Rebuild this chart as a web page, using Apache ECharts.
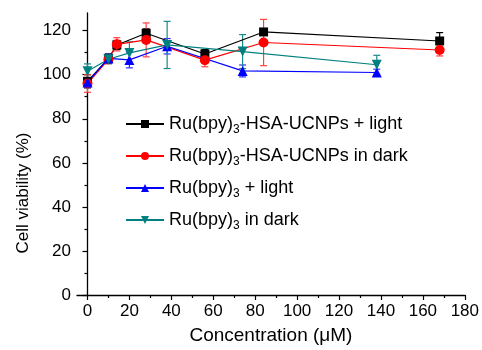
<!DOCTYPE html>
<html>
<head>
<meta charset="utf-8">
<script src="https://cdn.jsdelivr.net/npm/echarts@6/dist/echarts.min.js"></script>
<style>
  html, body { margin: 0; padding: 0; background: #fff; }
  #main { width: 482px; height: 350px; }
</style>
</head>
<body>
<div id="main"></div>
<script type="text/javascript">
    // concentrations (uM)
    var concHSA = [0, 10, 14, 28, 56, 84, 168];
    var concRu = [0, 10, 20, 38, 74, 138];

    // cell viability (%) and error
    var hsaLight = [97, 107.4, 113.5, 118.8, 109.4, 119.4, 115.3];
    var hsaLightErr = [3, 2, 2, 2, 2, 1.5, 3.8];
    var hsaDark = [96, 107, 113.8, 115.8, 106.6, 114.6, 111.2];
    var hsaDarkErr = [4, 2, 3, 7.7, 3, 10.5, 2.7];
    var ruLight = [96.5, 107.4, 106.7, 112.9, 101.7, 101.0];
    var ruLightErr = [2, 2, 3.6, 3.5, 2.7, 1.5];
    var ruDark = [101.6, 107, 109.9, 113.5, 110.5, 104.5];
    var ruDarkErr = [3.3, 2, 5, 10.7, 7.7, 4.3];

    var xTicks = [0, 20, 40, 60, 80, 100, 120, 140, 160, 180];
    var xMinor = [10, 30, 50, 70, 90, 110, 130, 150, 170];
    var yTicks = [0, 20, 40, 60, 80, 100, 120];
    var yMinor = [10, 30, 50, 70, 90, 110];

    var names = ['Ru(bpy)3-HSA-UCNPs + light', 'Ru(bpy)3-HSA-UCNPs in dark', 'Ru(bpy)3 + light', 'Ru(bpy)3 in dark'];
    var font = 'Liberation Sans, Arial, sans-serif';

    function pts(xs, ys) {
        return xs.map(function (x, i) { return [x, ys[i]]; });
    }
    function errPts(xs, ys, es) {
        return xs.map(function (x, i) { return [x, ys[i], es[i]]; });
    }

    function errSeries(name, data, color) {
        return {
            name: name + ' err',
            type: 'custom',
            data: data,
            z: 1,
            renderItem: function (params, api) {
                var x = api.value(0), y = api.value(1), e = api.value(2);
                var hi = api.coord([x, y + e]);
                var lo = api.coord([x, y - e]);
                var w = 3.5;
                var st = { stroke: color, lineWidth: 1.2 };
                return {
                    type: 'group',
                    children: [
                        { type: 'line', shape: { x1: hi[0], y1: hi[1], x2: lo[0], y2: lo[1] }, style: st },
                        { type: 'line', shape: { x1: hi[0] - w, y1: hi[1], x2: hi[0] + w, y2: hi[1] }, style: st },
                        { type: 'line', shape: { x1: lo[0] - w, y1: lo[1], x2: lo[0] + w, y2: lo[1] }, style: st }
                    ]
                };
            }
        };
    }

    function lineSeries(name, data, color, symbol, size) {
        return {
            name: name,
            type: 'line',
            data: data,
            z: 2,
            symbol: symbol,
            symbolSize: size,
            color: color,
            lineStyle: { color: color, width: 1.2 },
            itemStyle: { color: color },
            animation: false
        };
    }

    var myChart = echarts.init(document.getElementById('main'));
    var option = {
        animation: false,
        backgroundColor: '#fff',
        grid: { left: 77, right: 17, top: 13, bottom: 54 },
        legend: {
            data: names,
            orient: 'vertical',
            left: 125,
            top: 115,
            padding: 0,
            itemWidth: 38,
            itemHeight: 10,
            itemGap: 11,
            textStyle: {
                fontFamily: font,
                fontSize: 18,
                color: '#000',
                rich: {
                    n: { fontFamily: font, fontSize: 18, lineHeight: 24, color: '#000' },
                    s: { fontFamily: font, fontSize: 12, lineHeight: 10, verticalAlign: 'bottom', color: '#000' }
                }
            },
            formatter: function (name) {
                var parts = name.split('3');
                return '{n|' + parts[0] + '}{s|3}{n|' + parts.slice(1).join('3') + '}';
            }
        },
        xAxis: [{
            type: 'value',
            min: -5,
            max: 180,
            splitLine: { show: false },
            axisLine: { onZero: false, lineStyle: { color: '#000', width: 1.3 } },
            axisTick: { customValues: xTicks, length: 5, lineStyle: { color: '#000', width: 1.2 } },
            axisLabel: { customValues: xTicks, color: '#000', fontSize: 17, fontFamily: font, margin: 8 },
            name: 'Concentration (\u03bcM)',
            nameLocation: 'middle',
            nameGap: 31,
            nameTextStyle: { color: '#000', fontSize: 19, fontFamily: font }
        }, {
            type: 'value',
            position: 'bottom',
            min: -5,
            max: 180,
            splitLine: { show: false },
            axisLine: { show: false },
            axisTick: { customValues: xMinor, length: 3, lineStyle: { color: '#000', width: 1.2 } },
            axisLabel: { show: false }
        }],
        yAxis: [{
            type: 'value',
            min: 0,
            max: 128,
            splitLine: { show: false },
            axisLine: { show: true, lineStyle: { color: '#000', width: 1.3 } },
            axisTick: { show: true, customValues: yTicks, length: 5, lineStyle: { color: '#000', width: 1.2 } },
            axisLabel: { customValues: yTicks, color: '#000', fontSize: 17, fontFamily: font, margin: 6 }
        }, {
            type: 'value',
            position: 'left',
            min: 0,
            max: 128,
            splitLine: { show: false },
            axisLine: { show: false },
            axisTick: { show: true, customValues: yMinor, length: 3, lineStyle: { color: '#000', width: 1.2 } },
            axisLabel: { show: false }
        }],
        graphic: [{
            type: 'text',
            x: 23,
            y: 193,
            rotation: Math.PI / 2,
            style: {
                text: 'Cell viability (%)',
                fill: '#000',
                font: '17px ' + font,
                textAlign: 'center',
                textVerticalAlign: 'middle'
            }
        }],
        series: [
            errSeries(names[0], errPts(concHSA, hsaLight, hsaLightErr), '#000000'),
            errSeries(names[1], errPts(concHSA, hsaDark, hsaDarkErr), '#ff4040'),
            errSeries(names[2], errPts(concRu, ruLight, ruLightErr), '#3030ff'),
            errSeries(names[3], errPts(concRu, ruDark, ruDarkErr), '#1a8a8a'),
            lineSeries(names[0], pts(concHSA, hsaLight), '#000000', 'rect', 9),
            lineSeries(names[1], pts(concHSA, hsaDark), '#ff0000', 'circle', 10),
            lineSeries(names[2], pts(concRu, ruLight), '#0000ff', 'triangle', 10),
            lineSeries(names[3], pts(concRu, ruDark), '#008080', 'path://M0,0 L10,0 L5,10 Z', 10)
        ]
    };
    myChart.setOption(option);
</script>
</body>
</html>
